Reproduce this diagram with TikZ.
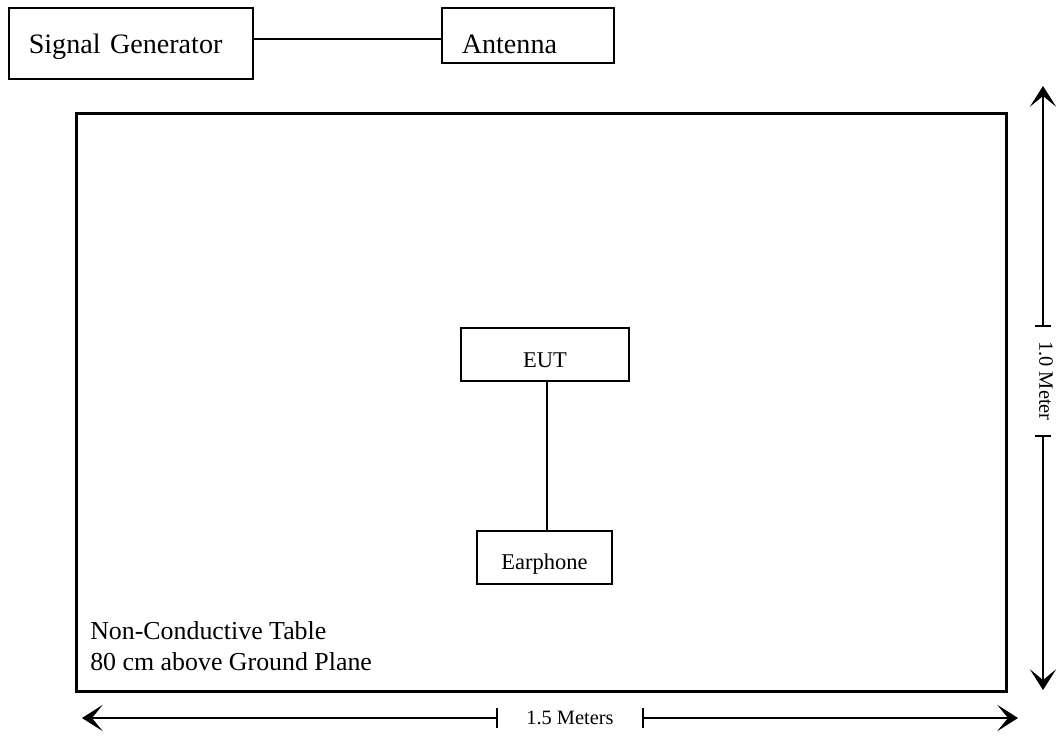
\documentclass[tikz,border=0pt]{standalone}
\usepackage{fontspec}
\setmainfont{Liberation Serif}
\usetikzlibrary{arrows.meta}

\begin{document}
\begin{tikzpicture}[x=0.025cm,y=-0.025cm]
    \tikzset{box/.style={draw=black, line width=1.1pt, inner sep=0pt},
             bigtext/.style={font=\fontsize{20}{24}\selectfont},
             midtext/.style={font=\fontsize{16}{19}\selectfont},
             dimtext/.style={font=\fontsize{14.5}{17}\selectfont},
             wire/.style={line width=1.1pt},
             dimline/.style={line width=1.1pt, -{Stealth[length=5.2mm,width=6.6mm,inset=2.7mm]}}}
    \useasboundingbox (0,0) rectangle (1056,738);
    % top row
    \node [box, bigtext, anchor=north west, minimum width=6.1cm, text height=1.15cm, text depth=0.625cm,
           text width=5.1cm, inner xsep=0.5cm, align=left] (siggen) at (8,7) {Signal Generator};
    \node [box, bigtext, anchor=north west, minimum width=4.3cm, text height=1.15cm, text depth=0.225cm,
           text width=3.3cm, inner xsep=0.5cm, align=left] (antenna) at (441,7) {Antenna};
    \draw [wire] (siggen.east |- 0,39) -- (antenna.west |- 0,39);
    % table
    \node [draw=black, line width=1.9pt, anchor=north west, minimum width=23.25cm,
           minimum height=14.45cm, inner sep=0pt] (table) at (75,112) {};
    \node [box, midtext, anchor=north, minimum width=4.2cm, text height=1.0cm, text depth=0.325cm] (eut) at (545,327) {EUT};
    \node [box, midtext, anchor=north, minimum width=3.375cm, text height=0.975cm, text depth=0.35cm] (earphone) at (544.5,530) {Earphone};
    \draw [wire] (eut.south -| 547,0) -- (earphone.north -| 547,0);
    \node [anchor=north west, align=left, inner sep=0pt, font=\fontsize{18.4}{22}\selectfont] (tabletext) at (90,621)
          {Non-Conductive Table\\80 cm above Ground Plane};
    % width dimension
    \coordinate (dimL) at (82,718);
    \coordinate (tickA) at (497,718);
    \coordinate (tickB) at (643,718);
    \coordinate (dimR) at (1018,718);
    \draw [dimline] (tickA) -- (dimL);
    \draw [dimline] (tickB) -- (dimR);
    \draw [wire] ([yshift=0.25cm]tickA) -- ([yshift=-0.25cm]tickA);
    \draw [wire] ([yshift=0.25cm]tickB) -- ([yshift=-0.25cm]tickB);
    \node [dimtext] (widthlabel) at (570,718) {1.5 Meters};
    % depth dimension
    \coordinate (dimT) at (1043,86);
    \coordinate (tickC) at (1043,326);
    \coordinate (tickD) at (1043,436);
    \coordinate (dimB) at (1043,690);
    \draw [dimline] (tickC) -- (dimT);
    \draw [dimline] (tickD) -- (dimB);
    \draw [wire] ([xshift=-0.2cm]tickC) -- ([xshift=0.2cm]tickC);
    \draw [wire] ([xshift=-0.2cm]tickD) -- ([xshift=0.2cm]tickD);
    \node [dimtext, rotate=-90] (depthlabel) at (1046,381) {1.0 Meter};
\end{tikzpicture}
\end{document}
